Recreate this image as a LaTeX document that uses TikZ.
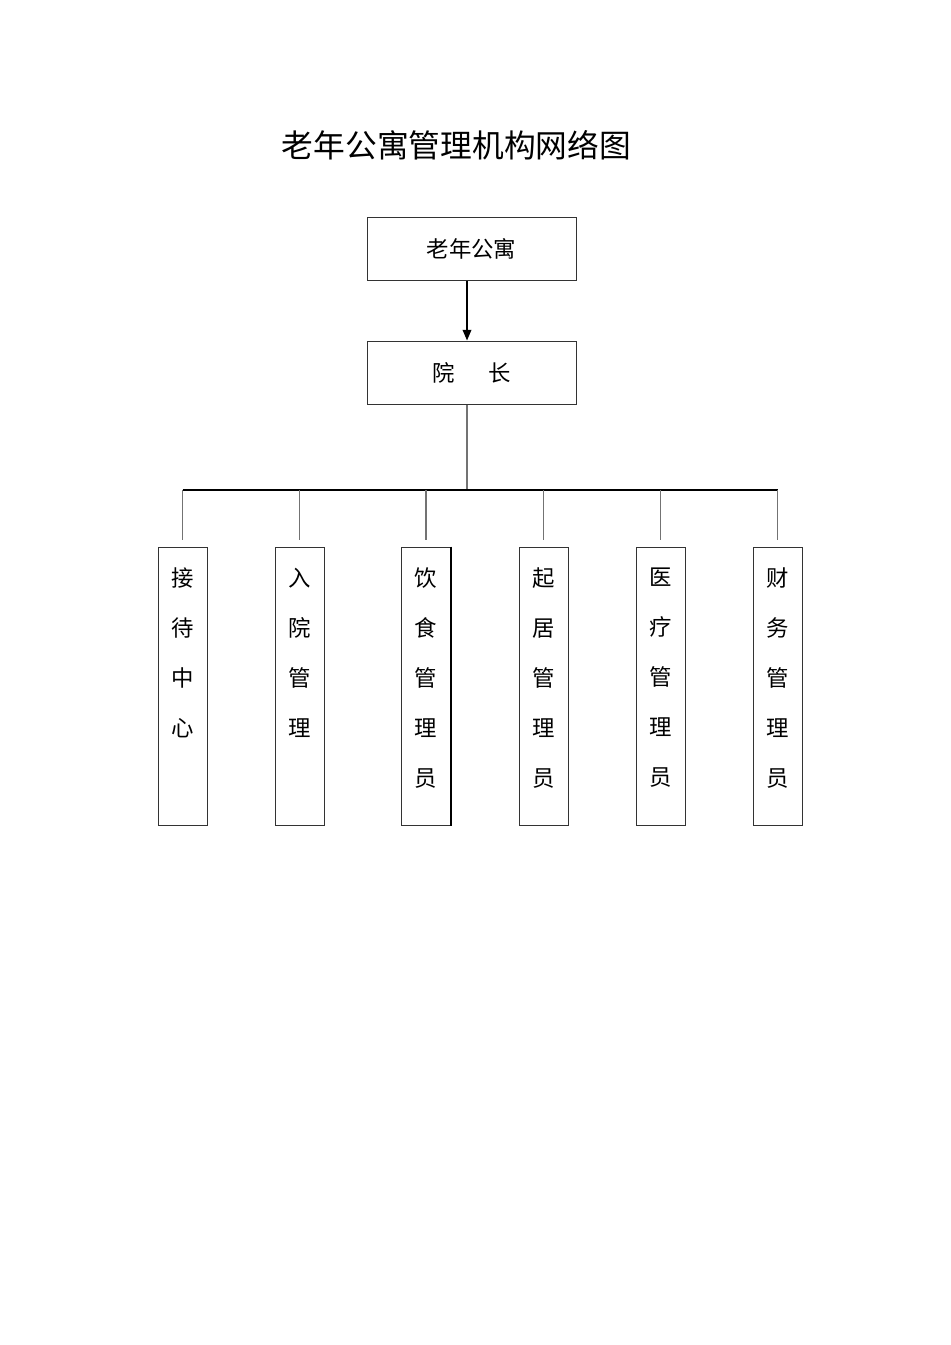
\documentclass[tikz,border=0pt]{standalone}
\usepackage{fontspec}
\setmainfont{Noto Sans CJK SC}
\usetikzlibrary{positioning,arrows.meta,calc}
\tikzset{
  box/.style={draw=black!80, line width=0.75pt, minimum width=156.75pt, minimum height=47.25pt, inner sep=0pt, font=\fontsize{16.8pt}{16.8pt}\selectfont},
  dept/.style={draw=black!80, line width=0.75pt, inner sep=0pt},
  link/.style={draw=black!55, line width=1pt},
}
\newcommand{\vtext}[1]{\parbox[c][208.5pt][t]{36.75pt}{\vspace*{15.5pt}\centering\fontsize{16.8pt}{37.5pt}\selectfont #1}}

\begin{document}
\begin{tikzpicture}[x=0.75pt,y=-0.75pt]
  \useasboundingbox (0,0) rectangle (950,1345);

  % Title
  \node[font=\fontsize{23.8pt}{23.8pt}\selectfont] (title) at (456.5,145) {老年公寓管理机构网络图};

  % Top boxes
  \node[box] (gongyu) at (471.5,248.5) {老年公寓};
  \node[box] (yuanzhang) at (471.5,372.5) {院\hspace{1.5em}长};

  % Departments
  \node[dept] (jiedai) at (182.5,686) {\vtext{接\\待\\中\\心}};
  \node[dept] (ruyuan) at (299.5,686) {\vtext{入\\院\\管\\理}};
  \node[dept] (yinshi) at (426,686) {\vtext{饮\\食\\管\\理\\员}};
  \node[dept] (qiju) at (543.5,686) {\vtext{起\\居\\管\\理\\员}};
  \node[dept] (yiliao) at (660.5,686) {\vtext{医\\疗\\管\\理\\员}};
  \node[dept] (caiwu) at (777.5,686) {\vtext{财\\务\\管\\理\\员}};
  \draw[line width=1.5pt] (yinshi.north east) -- (yinshi.south east);

  % Connectors
  \coordinate (hub) at (467,490);
  \draw[line width=1.1pt, -{Triangle[length=8pt,width=6.5pt]}] (gongyu.south -| hub) -- (yuanzhang.north -| hub);
  \draw[link] (yuanzhang.south -| hub) -- (hub);
  \draw[line width=1.5pt] (jiedai.north |- hub) -- (caiwu.north |- hub);
  \foreach \d in {jiedai,ruyuan,yinshi,qiju,yiliao,caiwu}
    \draw[link, shorten >=5.25pt] (\d.north |- hub) -- (\d.north);
\end{tikzpicture}
\end{document}
